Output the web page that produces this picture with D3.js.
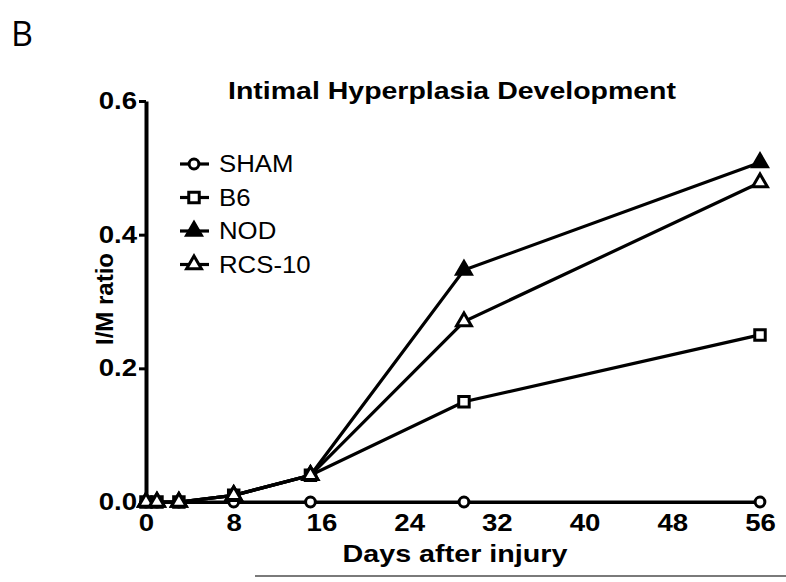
<!DOCTYPE html>
<html><head><meta charset="utf-8">
<script src="https://cdn.jsdelivr.net/npm/d3@7"></script>
<style>body{margin:0;background:#fff}</style>
</head><body>
<svg id="c" width="786" height="582"></svg>
<script>
const days = [0, 1, 3, 8, 15, 29, 56];
const shamVals = [0, 0, 0, 0, 0, 0, 0];
const b6Vals = [0, 0, 0, 0.01, 0.04, 0.15, 0.25];
const nodVals = [0, 0, 0, 0.01, 0.04, 0.347, 0.508];
const rcsVals = [0, 0, 0, 0.01, 0.04, 0.27, 0.478];
const seriesNames = ["SHAM", "B6", "NOD", "RCS-10"];
const xTicks = [0, 8, 16, 24, 32, 40, 48, 56];
const yTicks = [0, 0.2, 0.4, 0.6];

const series = [
  {name: seriesNames[0], vals: shamVals, shape: "circle", fill: "#fff"},
  {name: seriesNames[1], vals: b6Vals, shape: "square", fill: "#fff"},
  {name: seriesNames[2], vals: nodVals, shape: "triangle", fill: "#000"},
  {name: seriesNames[3], vals: rcsVals, shape: "triangle", fill: "#fff"}
];

const FONT = "Liberation Sans, Arial, sans-serif";
function stretch(sel, k) {
  sel.each(function () {
    const w = this.getComputedTextLength();
    d3.select(this).attr("textLength", w * k).attr("lengthAdjust", "spacingAndGlyphs");
  });
}

const svg = d3.select("#c");
const x = d3.scaleLinear().domain([0, 56]).range([146, 760]);
const y = d3.scaleLinear().domain([0, 0.6]).range([502, 101]);

// Panel letter
svg.append("text").attr("x", 11).attr("y", 46).text("B")
  .attr("font-family", "Open Sans, Liberation Sans, sans-serif").attr("font-size", 34).attr("fill", "#000");

// Title
const title = svg.append("text").attr("x", 452).attr("y", 99).attr("text-anchor", "middle")
  .attr("font-family", FONT).attr("font-weight", "bold").attr("font-size", 24)
  .text("Intimal Hyperplasia Development");
title.attr("textLength", 448).attr("lengthAdjust", "spacingAndGlyphs");

// Y axis
const yAxis = svg.append("g").attr("transform", "translate(146,0)")
  .call(d3.axisLeft(y).tickValues(yTicks).tickFormat(d3.format(".1f")).tickSize(7).tickSizeOuter(0).tickPadding(2));
yAxis.select(".domain").attr("stroke", "#000").attr("stroke-width", 4);
yAxis.selectAll(".tick line").attr("stroke", "#000").attr("stroke-width", 3);
yAxis.selectAll("text").attr("font-family", FONT).attr("font-weight", "bold")
  .attr("font-size", 23).attr("fill", "#000");
stretch(yAxis.selectAll("text"), 1.2);

// X axis
const xAxis = svg.append("g").attr("transform", "translate(0,502)")
  .call(d3.axisBottom(x).tickValues(xTicks).tickSize(0).tickSizeOuter(0).tickPadding(13));
xAxis.select(".domain").attr("stroke", "#000").attr("stroke-width", 3);
xAxis.selectAll("text").attr("font-family", FONT).attr("font-weight", "bold")
  .attr("font-size", 23).attr("fill", "#000");
stretch(xAxis.selectAll("text"), 1.2);

// Axis titles
const xt = svg.append("text").attr("x", 455).attr("y", 562).attr("text-anchor", "middle")
  .attr("font-family", FONT).attr("font-weight", "bold").attr("font-size", 24)
  .text("Days after injury");
xt.attr("textLength", 225).attr("lengthAdjust", "spacingAndGlyphs");
svg.append("text").attr("transform", "translate(113,299) rotate(-90)").attr("text-anchor", "middle")
  .attr("font-family", FONT).attr("font-weight", "bold").attr("font-size", 24)
  .text("I/M ratio");

// bottom gray rule
svg.append("line").attr("x1", 255).attr("x2", 786).attr("y1", 576).attr("y2", 576)
  .attr("stroke", "#7a7a7a").attr("stroke-width", 2);

const symGen = {
  circle: d3.symbol().type(d3.symbolCircle).size(75),
  square: d3.symbol().type(d3.symbolSquare).size(110),
  triangle: d3.symbol().type(d3.symbolTriangle).size(95)
};

const line = d3.line().x((d, i) => x(days[i])).y(d => y(d));
const g = svg.append("g");
series.forEach(s => {
  g.append("path").attr("d", line(s.vals)).attr("fill", "none").attr("stroke", "#000").attr("stroke-width", 3.2);
});
series.forEach(s => {
  g.selectAll(null).data(s.vals).enter().append("path")
    .attr("d", symGen[s.shape])
    .attr("transform", (d, i) => `translate(${x(days[i])},${y(d)})`)
    .attr("fill", s.fill).attr("stroke", "#000").attr("stroke-width", 3);
});

// Legend
const lg = svg.append("g");
series.forEach((s, i) => {
  const ly = 164 + i * 33.5;
  lg.append("line").attr("x1", 180).attr("x2", 209).attr("y1", ly).attr("y2", ly)
    .attr("stroke", "#000").attr("stroke-width", 3.2);
  lg.append("path").attr("d", symGen[s.shape]).attr("transform", `translate(194,${ly})`)
    .attr("fill", s.fill).attr("stroke", "#000").attr("stroke-width", 3);
  const t = lg.append("text").attr("x", 219).attr("y", ly + 8).text(s.name)
    .attr("font-family", FONT).attr("font-size", 23).attr("fill", "#000");
  stretch(t, 1.12);
});
</script>
</body></html>
